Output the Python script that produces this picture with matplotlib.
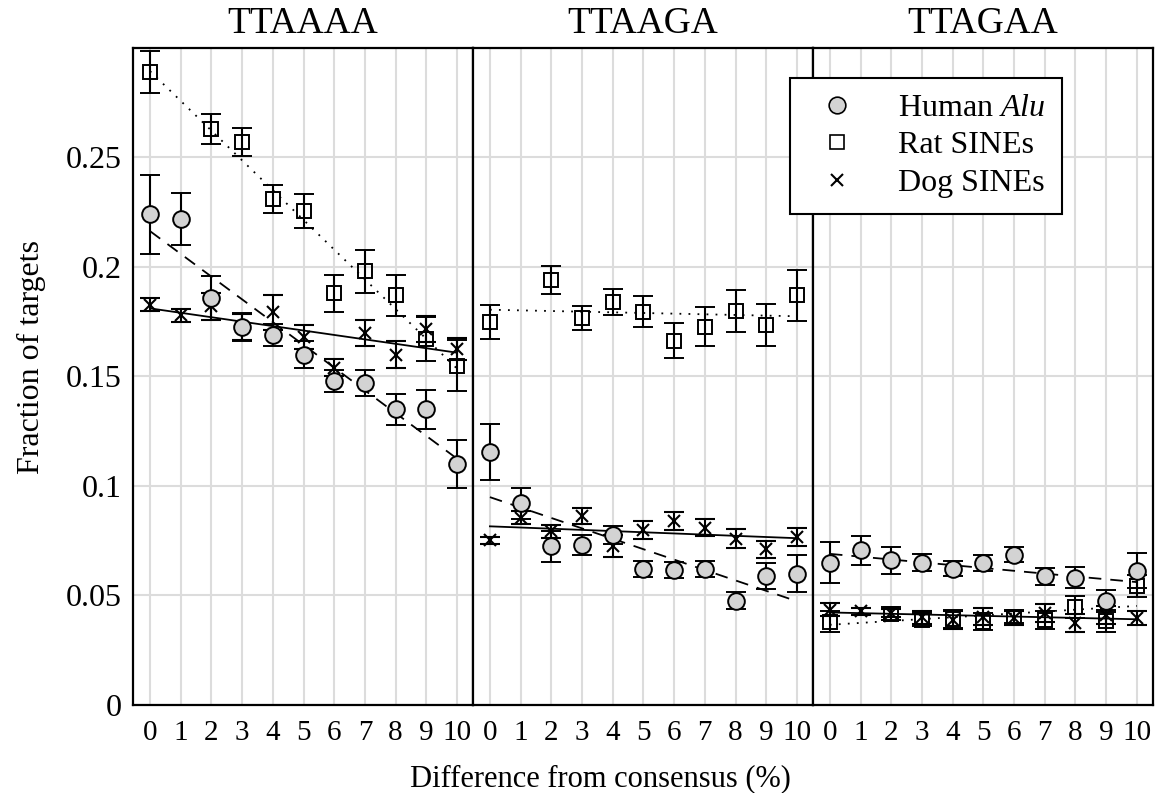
import numpy as np
import matplotlib.pyplot as plt
from matplotlib.lines import Line2D

plt.rcParams['font.family'] = ['Liberation Serif', 'DejaVu Serif']
plt.rcParams['mathtext.fontset'] = 'custom'
plt.rcParams['mathtext.rm'] = 'Liberation Serif'
plt.rcParams['mathtext.it'] = 'Liberation Serif:italic'

nan = np.nan

# данные
motifs = ['TTAAAA', 'TTAAGA', 'TTAGAA']
diff = np.arange(11)
x_ticklabels = ['0', '1', '2', '3', '4', '5', '6', '7', '8', '9', '10']
y_ticks = [0, 0.05, 0.1, 0.15, 0.2, 0.25]
y_ticklabels = ['0', '0.05', '0.1', '0.15', '0.2', '0.25']

human_aaaa = [0.224, 0.222, 0.186, 0.1725, 0.169, 0.160, 0.148, 0.147, 0.135, 0.135, 0.110]
human_aaaa_err = [0.018, 0.012, 0.010, 0.0065, 0.005, 0.006, 0.005, 0.006, 0.007, 0.009, 0.011]
rat_aaaa = [0.289, nan, 0.263, 0.257, 0.231, 0.2255, 0.188, 0.198, 0.187, 0.167, 0.155]
rat_aaaa_err = [0.0097, nan, 0.007, 0.0063, 0.0065, 0.0076, 0.0085, 0.0097, 0.0095, 0.010, 0.0117]
dog_aaaa = [0.1827, 0.178, 0.182, 0.1725, 0.1794, 0.168, 0.154, 0.170, 0.160, 0.1717, 0.1625]
dog_aaaa_err = [0.003, 0.003, 0.006, 0.006, 0.008, 0.0055, 0.004, 0.006, 0.006, 0.006, 0.005]

human_aaga = [0.1155, 0.092, 0.0725, 0.073, 0.0775, 0.062, 0.0615, 0.062, 0.0476, 0.0588, 0.060]
human_aaga_err = [0.0128, 0.007, 0.007, 0.0045, 0.004, 0.0037, 0.0037, 0.0037, 0.004, 0.006, 0.0083]
rat_aaga = [0.1748, nan, 0.194, 0.1766, 0.184, 0.1796, 0.1664, 0.1728, 0.180, 0.1735, 0.187]
rat_aaga_err = [0.0078, nan, 0.0064, 0.0055, 0.006, 0.007, 0.008, 0.009, 0.0097, 0.0098, 0.0115]
dog_aaga = [0.0752, 0.0855, 0.0794, 0.0862, 0.0725, 0.080, 0.084, 0.081, 0.076, 0.071, 0.0767]
dog_aaga_err = [0.0015, 0.003, 0.003, 0.0036, 0.005, 0.004, 0.0042, 0.004, 0.0042, 0.004, 0.0042]

human_agaa = [0.065, 0.0707, 0.066, 0.065, 0.0623, 0.065, 0.0687, 0.0587, 0.058, 0.0473, 0.0614]
human_agaa_err = [0.0093, 0.0066, 0.0062, 0.004, 0.0034, 0.0036, 0.0035, 0.0038, 0.0048, 0.005, 0.008]
rat_agaa = [0.0381, nan, 0.0417, 0.0389, 0.0392, 0.0381, 0.0404, 0.0389, 0.0447, 0.0385, 0.0542]
rat_agaa_err = [0.005, nan, 0.003, 0.003, 0.004, 0.004, 0.003, 0.004, 0.005, 0.005, 0.005]
dog_agaa = [0.0435, 0.0427, 0.042, 0.0401, 0.0389, 0.0404, 0.0397, 0.042, 0.0374, 0.0412, 0.0397]
dog_agaa_err = [0.003, 0.0015, 0.002, 0.003, 0.004, 0.004, 0.003, 0.004, 0.004, 0.004, 0.003]

human = [human_aaaa, human_aaga, human_agaa]
human_err = [human_aaaa_err, human_aaga_err, human_agaa_err]
rat = [rat_aaaa, rat_aaga, rat_agaa]
rat_err = [rat_aaaa_err, rat_aaga_err, rat_agaa_err]
dog = [dog_aaaa, dog_aaga, dog_agaa]
dog_err = [dog_aaaa_err, dog_aaga_err, dog_agaa_err]

gray = '#d3d3d3'


def fit_line(ax, y, style):
    # линейная регрессия по точкам серии
    y = np.asarray(y, dtype=float)
    ok = ~np.isnan(y)
    k, b = np.polyfit(diff[ok], y[ok], 1)
    xs = np.array([diff[0], diff[-1]])
    ax.plot(xs, k * xs + b, color='k', lw=1.3, ls=style, zorder=2)


fig, axes = plt.subplots(1, 3, sharey=True, figsize=(11.68, 7.93), dpi=100)
fig.subplots_adjust(left=0.114, right=0.987, top=0.9395, bottom=0.111, wspace=0)

eb = dict(ecolor='k', elinewidth=1.5, capsize=7, capthick=1.5, mec='k', linestyle='none', zorder=3)

for i, ax in enumerate(axes):
    fit_line(ax, human[i], (0, (7, 5)))
    fit_line(ax, rat[i], (0, (1, 4)))
    fit_line(ax, dog[i], '-')

    ax.errorbar(diff, rat[i], yerr=rat_err[i], marker='s', ms=9.5, mfc='none', mew=1.4, **eb)
    ax.errorbar(diff, dog[i], yerr=dog_err[i], marker='x', ms=9, mew=1.5, **eb)
    ax.errorbar(diff, human[i], yerr=human_err[i], marker='o', ms=12, mfc=gray, mew=1.4, **eb)

    ax.set_xlim(-0.55, 10.52)
    ax.set_ylim(0, 0.3)
    ax.set_xticks(diff)
    ax.set_xticklabels(x_ticklabels)
    ax.set_yticks(y_ticks)
    ax.set_yticklabels(y_ticklabels)
    ax.tick_params(axis='x', length=0, labelsize=21, pad=11)
    ax.tick_params(axis='y', length=0, labelsize=23, pad=8)
    ax.grid(True, color='#dcdcdc', lw=1.5)
    ax.set_axisbelow(True)
    for s in ax.spines.values():
        s.set_linewidth(1.6)
    ax.set_title(motifs[i], fontsize=27, pad=11)

axes[0].set_ylabel('Fraction of targets', fontsize=23)
axes[0].yaxis.set_label_coords(-0.255, 0.53)
fig.supxlabel('Difference from consensus (%)', fontsize=22, y=0.0, x=0.514)

handles = [
    Line2D([], [], marker='o', ls='none', ms=12, mfc=gray, mec='k', mew=1.2),
    Line2D([], [], marker='s', ls='none', ms=10, mfc='none', mec='k', mew=1.2),
    Line2D([], [], marker='x', ls='none', ms=9, mec='k', mew=1.5),
]
labels = [r'Human $\mathit{Alu}$', 'Rat SINEs', 'Dog SINEs']
leg = fig.legend(handles, labels, loc='upper left', bbox_to_anchor=(0.676, 0.902),
                 borderaxespad=0, fontsize=23, frameon=True, fancybox=False, edgecolor='k',
                 framealpha=1, handletextpad=0.9, labelspacing=0.25, borderpad=0.5)
leg.get_frame().set_linewidth(1.5)
leg.set_zorder(10)

fig.savefig('out.png', dpi=100)
